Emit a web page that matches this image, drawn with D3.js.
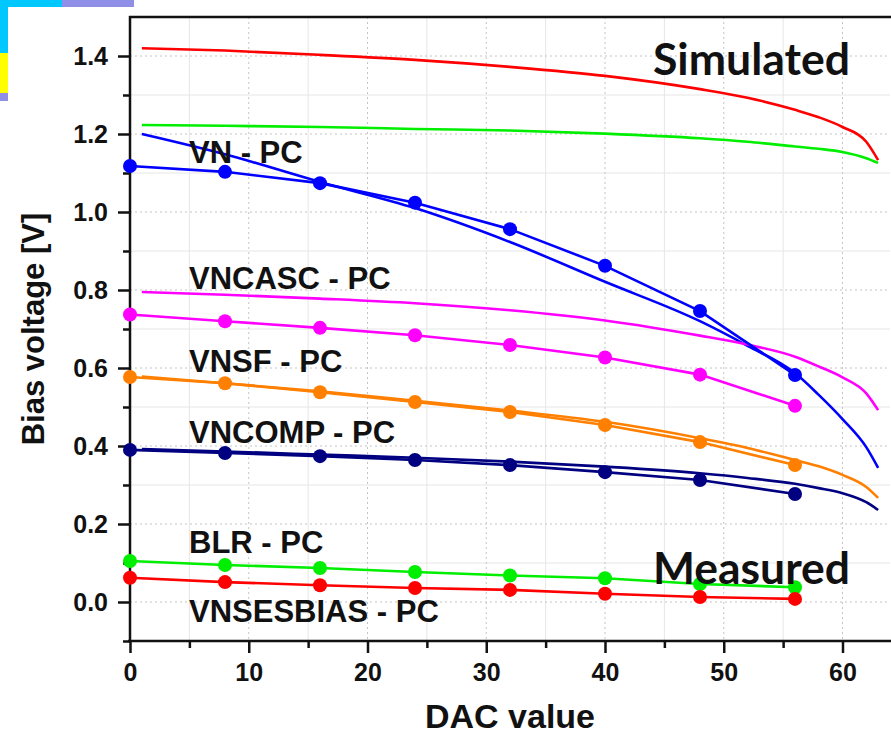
<!DOCTYPE html>
<html>
<head>
<meta charset="utf-8">
<script src="https://cdn.jsdelivr.net/npm/d3@7"></script>
<style>
  body { margin: 0; background: #fff; }
  text { font-family: "Liberation Sans", Arial, sans-serif; font-weight: bold; fill: #111; }
</style>
</head>
<body>
<div id="chart"></div>
<script>
// measured points (DAC 0..56 step 8)
var dacMeas = [0, 8, 16, 24, 32, 40, 48, 56];
var measVN = [1.118, 1.103, 1.074, 1.024, 0.956, 0.862, 0.746, 0.582];
var measVNCASC = [0.737, 0.720, 0.703, 0.684, 0.659, 0.627, 0.583, 0.503];
var measVNSF = [0.577, 0.561, 0.538, 0.513, 0.487, 0.454, 0.410, 0.351];
var measVNCOMP = [0.390, 0.382, 0.374, 0.364, 0.351, 0.333, 0.313, 0.277];
var measBLR = [0.105, 0.095, 0.087, 0.077, 0.068, 0.061, 0.046, 0.038];
var measVNSESBIAS = [0.062, 0.051, 0.043, 0.036, 0.031, 0.021, 0.013, 0.008];

// simulated curves
var dacSim = [1, 8, 16, 24, 32, 40, 48, 52, 56, 58, 60, 62, 63];
var simVNSESBIAS = [1.420, 1.414, 1.403, 1.390, 1.372, 1.349, 1.315, 1.293, 1.262, 1.243, 1.218, 1.180, 1.133];
var simBLR = [1.223, 1.221, 1.218, 1.213, 1.209, 1.201, 1.189, 1.180, 1.168, 1.162, 1.154, 1.138, 1.126];
var simVN = [1.200, 1.148, 1.077, 1.010, 0.923, 0.821, 0.720, 0.657, 0.587, 0.531, 0.469, 0.397, 0.344];
var simVNCASC = [0.795, 0.788, 0.778, 0.766, 0.748, 0.722, 0.683, 0.660, 0.629, 0.604, 0.576, 0.535, 0.492];
var simVNSF = [0.578, 0.561, 0.540, 0.516, 0.491, 0.462, 0.420, 0.395, 0.364, 0.348, 0.326, 0.295, 0.267];
var simVNCOMP = [0.392, 0.386, 0.378, 0.370, 0.360, 0.347, 0.330, 0.318, 0.303, 0.292, 0.279, 0.256, 0.236];

var xTicks = [0, 10, 20, 30, 40, 50, 60];
var yTicks = [0.0, 0.2, 0.4, 0.6, 0.8, 1.0, 1.2, 1.4];

var labels = [
  { text: "VN - PC", y: 163 },
  { text: "VNCASC - PC", y: 289 },
  { text: "VNSF - PC", y: 372 },
  { text: "VNCOMP - PC", y: 443 },
  { text: "BLR - PC", y: 553 },
  { text: "VNSESBIAS - PC", y: 622 }
];

var width = 891, height = 737;
var mLeft = 130, mTop = 17, mRight = 890, mBottom = 641;

var svg = d3.select("#chart").append("svg")
  .attr("width", width)
  .attr("height", height);

// bits of the slide behind the chart, top-left corner
svg.append("rect").attr("x", 0).attr("y", 0).attr("width", 62).attr("height", 7).attr("fill", "#00c8ff");
svg.append("rect").attr("x", 62).attr("y", 0).attr("width", 72).attr("height", 7).attr("fill", "#8f8fe8");
svg.append("rect").attr("x", 0).attr("y", 0).attr("width", 8).attr("height", 53).attr("fill", "#00c8ff");
svg.append("rect").attr("x", 0).attr("y", 53).attr("width", 8).attr("height", 40).attr("fill", "#ffff00");
svg.append("rect").attr("x", 0).attr("y", 93).attr("width", 8).attr("height", 8).attr("fill", "#8f8fe8");

var x = d3.scaleLinear().domain([0, 64]).range([mLeft, mRight]);
var y = d3.scaleLinear().domain([-0.1, 1.5]).range([mBottom, mTop]);

// grid: minor solid faint, major dotted
var xMinor = d3.range(5, 64, 10);
var yMinor = d3.range(-1, 15, 2).map(function (d) { return d / 10; });

svg.append("g").selectAll("line")
  .data(xMinor)
  .join("line")
  .attr("x1", d => x(d)).attr("x2", d => x(d))
  .attr("y1", mTop).attr("y2", mBottom)
  .attr("stroke", "#e6e6e6").attr("stroke-width", 1);

svg.append("g").selectAll("line")
  .data(yMinor.filter(d => d > -0.1))
  .join("line")
  .attr("x1", mLeft).attr("x2", mRight)
  .attr("y1", d => y(d)).attr("y2", d => y(d))
  .attr("stroke", "#e6e6e6").attr("stroke-width", 1);

svg.append("g").selectAll("line")
  .data(xTicks.filter(d => d > 0))
  .join("line")
  .attr("x1", d => x(d)).attr("x2", d => x(d))
  .attr("y1", mTop).attr("y2", mBottom)
  .attr("stroke", "#c4c4c4").attr("stroke-width", 1)
  .attr("stroke-dasharray", "2,3");

svg.append("g").selectAll("line")
  .data(yTicks)
  .join("line")
  .attr("x1", mLeft).attr("x2", mRight)
  .attr("y1", d => y(d)).attr("y2", d => y(d))
  .attr("stroke", "#c4c4c4").attr("stroke-width", 1)
  .attr("stroke-dasharray", "2,3");

// axes
function styleAxis(g) {
  g.select(".domain").remove();
  g.selectAll(".tick line").attr("stroke", "#111").attr("stroke-width", 2.5);
  g.selectAll(".tick text").attr("font-size", 25).attr("font-weight", "bold")
    .attr("font-family", "Liberation Sans, Arial, sans-serif").attr("fill", "#111");
}

svg.append("g")
  .attr("transform", "translate(0," + mBottom + ")")
  .call(d3.axisBottom(x).tickValues(xMinor).tickSize(7).tickFormat(""))
  .call(styleAxis);

svg.append("g")
  .attr("transform", "translate(0," + mBottom + ")")
  .call(d3.axisBottom(x).tickValues(xTicks).tickSize(12).tickPadding(10).tickFormat(d3.format("d")))
  .call(styleAxis);

svg.append("g")
  .attr("transform", "translate(" + mLeft + ",0)")
  .call(d3.axisLeft(y).tickValues(yMinor).tickSize(7).tickFormat(""))
  .call(styleAxis);

svg.append("g")
  .attr("transform", "translate(" + mLeft + ",0)")
  .call(d3.axisLeft(y).tickValues(yTicks).tickSize(12).tickPadding(10).tickFormat(d3.format(".1f")))
  .call(styleAxis);

// frame lines
svg.append("line").attr("x1", mLeft).attr("x2", mLeft).attr("y1", mTop - 1).attr("y2", mBottom + 1)
  .attr("stroke", "#111").attr("stroke-width", 2.5);
svg.append("line").attr("x1", mLeft - 2).attr("x2", width).attr("y1", mBottom).attr("y2", mBottom)
  .attr("stroke", "#111").attr("stroke-width", 2.5);
svg.append("line").attr("x1", mLeft - 1).attr("x2", width).attr("y1", mTop).attr("y2", mTop)
  .attr("stroke", "#111").attr("stroke-width", 2.5);

// curves
var simLine = d3.line().x(d => x(d[0])).y(d => y(d[1])).curve(d3.curveMonotoneX);
var measLine = d3.line().x(d => x(d[0])).y(d => y(d[1]));

var simSeries = [
  { values: simVNSESBIAS, color: "#ff0000" },
  { values: simBLR, color: "#00ee00" },
  { values: simVN, color: "#0000ff" },
  { values: simVNCASC, color: "#ff00ff" },
  { values: simVNSF, color: "#ff8000" },
  { values: simVNCOMP, color: "#000080" }
];

var measSeries = [
  { values: measVN, color: "#0000ff" },
  { values: measVNCASC, color: "#ff00ff" },
  { values: measVNSF, color: "#ff8000" },
  { values: measVNCOMP, color: "#000080" },
  { values: measBLR, color: "#00ee00" },
  { values: measVNSESBIAS, color: "#ff0000" }
];

svg.append("g").selectAll("path")
  .data(simSeries)
  .join("path")
  .attr("d", d => simLine(dacSim.map((v, i) => [v, d.values[i]])))
  .attr("fill", "none")
  .attr("stroke", d => d.color)
  .attr("stroke-width", 2.6);

var mg = svg.append("g").selectAll("g")
  .data(measSeries)
  .join("g");

mg.append("path")
  .attr("d", d => measLine(dacMeas.map((v, i) => [v, d.values[i]])))
  .attr("fill", "none")
  .attr("stroke", d => d.color)
  .attr("stroke-width", 2.6);

mg.selectAll("circle")
  .data(d => d.values.map((v, i) => ({ x: dacMeas[i], y: v, color: d.color })))
  .join("circle")
  .attr("cx", d => x(d.x))
  .attr("cy", d => y(d.y))
  .attr("r", 7)
  .attr("fill", d => d.color);

// series labels
svg.append("g").selectAll("text")
  .data(labels)
  .join("text")
  .attr("x", 189)
  .attr("y", d => d.y)
  .attr("font-size", 31)
  .text(d => d.text);

svg.append("text")
  .attr("x", 653).attr("y", 75)
  .attr("font-size", 44)
  .attr("textLength", 197).attr("lengthAdjust", "spacingAndGlyphs")
  .style("font-family", "Lato, sans-serif")
  .text("Simulated");

svg.append("text")
  .attr("x", 653).attr("y", 584)
  .attr("font-size", 44)
  .attr("textLength", 197).attr("lengthAdjust", "spacingAndGlyphs")
  .style("font-family", "Lato, sans-serif")
  .text("Measured");

// axis titles
svg.append("text")
  .attr("x", (mLeft + mRight) / 2)
  .attr("y", 728)
  .attr("text-anchor", "middle")
  .attr("font-size", 34)
  .text("DAC value");

svg.append("text")
  .attr("transform", "translate(44," + ((mTop + mBottom) / 2) + ") rotate(-90)")
  .attr("text-anchor", "middle")
  .attr("font-size", 31)
  .text("Bias voltage [V]");
</script>
</body>
</html>
